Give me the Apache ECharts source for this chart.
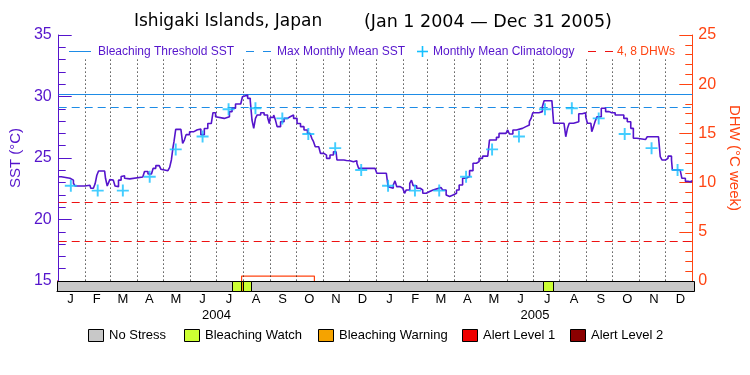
<!DOCTYPE html>
<html><head><meta charset="utf-8">
<script src="https://cdn.jsdelivr.net/npm/echarts@6/dist/echarts.min.js"></script>
<style>html,body{margin:0;padding:0;background:#fff}#c{width:750px;height:375px}</style>
</head><body><div id="c"></div>
<script>
// ---------- data ----------
const monthLetters = ['J','F','M','A','M','J','J','A','S','O','N','D'];
const monthLengths = [31,29,31,30,31,30,31,31,30,31,30,31, 31,28,31,30,31,30,31,31,30,31,30,31];
const years = ['2004','2005'];
const yearLengths = [366, 365];
// day index counted from Jan 1 2004
const sstDays = [0,3,5,13,15,17,19,30,32,36,37,40,42,44,46,53,54,56,57,59,61,63,65,66,69,72,74,76,78,82,97,99,103,107,109,112,116,118,120,126,128,130,132,133,135,141,143,145,147,151,156,160,162,164,168,172,176,178,181,183,191,193,197,200,204,210,212,214,218,221,223,225,227,229,233,237,241,243,244,248,250,252,254,256,260,264,267,271,275,279,283,287,290,292,294,296,300,302,306,309,313,317,320,321,329,332,336,340,344,346,355,365,367,378,380,382,386,388,390,394,397,399,401,405,407,409,413,417,420,424,428,432,438,441,443,447,449,451,455,459,462,466,470,474,478,482,485,489,495,497,501,505,508,516,518,520,524,528,535,539,543,545,547,554,558,560,569,571,583,585,587,589,594,596,600,604,608,610,614,615,617,619,621,626,631,635,638,642,648,652,656,660,663,667,677,679,692,694,696,700,703,707,708,717,719,723,726,730];
const sstValues = [23.48,23.45,23.35,23.3,23.2,22.95,22.72,22.72,22.78,22.75,22.54,22.7,22.9,23.6,23.94,23.85,23.35,22.72,22.9,23.25,23.2,23.05,22.72,22.67,23.2,23.5,23.55,23.35,23.3,23.45,23.45,23.9,23.7,23.78,24.16,24.38,24.24,24.08,23.97,23.97,24.24,24.84,25.92,26.33,27.33,27.33,26.19,26.46,26.9,27.14,27.3,27.14,27.35,26.9,27.4,27.8,27.95,28.68,28.35,28.22,28.22,28.35,28.77,29.04,29.39,29.3,29.98,30.12,29.85,29.67,28.09,27.41,28.22,28.5,28.68,28.5,28.3,27.8,28.3,28.5,28.1,27.55,27.55,27.95,28.22,28.35,28.5,28.22,27.8,27.55,27.28,27.0,26.9,26.6,26.33,25.92,25.8,25.38,25.24,24.97,25.24,25.51,25.65,24.84,24.8,24.77,24.7,24.77,24.57,24.16,24.16,24.1,23.76,23.63,22.67,22.54,22.8,23.14,22.67,22.54,22.4,22.13,22.4,22.94,23.2,22.75,22.54,22.4,22.13,22.27,22.4,22.53,22.6,22.67,22.4,22.0,21.87,22.0,22.13,22.4,22.8,23.35,23.5,23.97,24.57,24.7,24.97,25.15,25.15,26.46,26.46,26.68,27.0,27.14,27.28,26.95,27.28,27.41,27.55,27.68,27.95,28.22,28.68,28.77,29.17,29.66,29.66,27.82,27.82,26.73,27.41,27.82,27.82,27.95,28.6,28.68,28.35,27.82,27.82,27.14,27.55,28.0,28.35,29.04,28.77,28.68,28.68,28.5,28.5,28.22,27.95,27.41,26.6,26.5,26.5,26.73,26.73,25.11,24.84,24.97,25.15,24.84,24.02,24.1,23.35,23.1,23.05,23.2];
const climValues = [22.75,22.35,22.35,23.48,25.7,26.75,28.97,29.05,28.22,26.95,25.8,24.02];
const thresholdSST = 30.15;
const mmmSST = 29.15;
const dhwLevels = [4, 8];
const dhwDays = [0, 211, 295, 731];
const dhwValues = [0, 0.5, 0, 0];
const stressStart = [0, 201, 211, 213, 558];
const stressEnd   = [731, 211, 213, 222, 569];
const stressLevel = [0, 1, 2, 1, 1];
const stressNames = ['No Stress','Bleaching Watch','Bleaching Warning','Alert Level 1','Alert Level 2'];
const gridTopSST = 33;   // month dividers run below the in-plot legend

// ---------- styles ----------
const PURPLE = '#5514CC', ORANGE = '#FF4412', BLUE = '#1E8CE6', CYAN = '#14C0FF', RED = '#EE1111';
const stressColors = ['#C8C8C8','#CCFF33','#F5A300','#EE0000','#8B0000'];
const FONT = 'Liberation Sans, Arial, sans-serif';

// ---------- derived ----------
const monthStarts = []; let acc = 0;
monthLengths.forEach(l => { monthStarts.push(acc); acc += l; });
const totalDays = acc;
const monthMids = monthStarts.map((s, i) => s + monthLengths[i] / 2);
const yearMids = []; let ya = 0;
yearLengths.forEach(l => { yearMids.push(ya + l / 2); ya += l; });
const sstData = sstDays.map((d, i) => [d, sstValues[i]]);
const climData = monthStarts.map((s, i) => [s + 14, climValues[i % 12]]);
const dhwData = [];
for (let i = 0; i < dhwDays.length - 1; i++) {
  const v = dhwValues[i];
  if (v > 0) {
    const prev = i > 0 ? dhwValues[i - 1] : 0;
    dhwData.push([dhwDays[i], prev], [dhwDays[i], v], [dhwDays[i + 1], v], [dhwDays[i + 1], dhwValues[i + 1]]);
  } else if (dhwData.length && dhwData[dhwData.length - 1] !== '-') {
    dhwData.push('-');
  }
}
const stressData = stressStart.map((s, i) => [s, stressEnd[i], stressLevel[i]]);
const plusPath = 'path://M0,4.2H10V5.8H0Z M4.2,0H5.8V10H4.2Z';

const chart = echarts.init(document.getElementById('c'), null, {renderer: 'canvas'});

const graphics = [];
graphics.push({type:'text', style:{x:134, y:22, text:'Ishigaki Islands, Japan', font:'17px DejaVu Sans, sans-serif', fill:'#000', textVerticalAlign:'middle'}});
graphics.push({type:'text', style:{x:364, y:22, text:'(Jan 1 2004 \u2014 Dec 31 2005)', font:'17.5px DejaVu Sans, sans-serif', fill:'#000', textVerticalAlign:'middle'}});
const ly = 51.5;
graphics.push({type:'line', shape:{x1:69, y1:ly, x2:91, y2:ly}, style:{stroke:BLUE, lineWidth:1}});
graphics.push({type:'text', style:{x:98, y:ly, text:'Bleaching Threshold SST', font:'12px ' + FONT, fill:PURPLE, textVerticalAlign:'middle'}});
graphics.push({type:'line', shape:{x1:246, y1:ly, x2:271, y2:ly}, style:{stroke:BLUE, lineWidth:1, lineDash:[8,9]}});
graphics.push({type:'text', style:{x:277, y:ly, text:'Max Monthly Mean SST', font:'12px ' + FONT, fill:PURPLE, textVerticalAlign:'middle'}});
graphics.push({type:'line', shape:{x1:417, y1:ly, x2:428, y2:ly}, style:{stroke:CYAN, lineWidth:1.6}});
graphics.push({type:'line', shape:{x1:422.5, y1:ly-5.5, x2:422.5, y2:ly+5.5}, style:{stroke:CYAN, lineWidth:1.6}});
graphics.push({type:'text', style:{x:433, y:ly, text:'Monthly Mean Climatology', font:'12px ' + FONT, fill:PURPLE, textVerticalAlign:'middle'}});
graphics.push({type:'line', shape:{x1:588, y1:ly, x2:613, y2:ly}, style:{stroke:RED, lineWidth:1, lineDash:[8,9]}});
graphics.push({type:'text', style:{x:617, y:ly, text:'4, 8 DHWs', font:'12px ' + FONT, fill:ORANGE, textVerticalAlign:'middle'}});
const boxX = [88, 184, 318, 462, 570];
stressNames.forEach((n, i) => {
  graphics.push({type:'rect', shape:{x:boxX[i] + 0.5, y:329.5, width:15, height:12}, style:{fill:stressColors[i], stroke:'#000', lineWidth:1}});
  graphics.push({type:'text', style:{x:boxX[i] + 21, y:335.5, text:n, font:'13px ' + FONT, fill:'#000', textVerticalAlign:'middle'}});
});

const option = {
  animation: false,
  backgroundColor: '#fff',
  grid: [
    {left: 57, right: 56, top: 35, height: 246},
    {left: 57, right: 56, top: 281, height: 10}
  ],
  xAxis: [
    {gridIndex: 0, type: 'value', min: 0, max: totalDays, position: 'top',
     axisLine: {show: true, lineStyle: {color: '#000', width: 1}}, axisTick: {show: false},
     axisLabel: {show: false}, splitLine: {show: false}},
    {gridIndex: 1, type: 'value', min: 0, max: totalDays, position: 'bottom',
     axisLine: {show: true, lineStyle: {color: '#000', width: 1}}, axisTick: {show: false},
     axisLabel: {show: true, customValues: monthMids, margin: 2, color: '#000', fontSize: 13, fontFamily: FONT,
       formatter: (v) => { const i = monthMids.findIndex(m => Math.abs(m - v) < 0.01); return i >= 0 ? monthLetters[i % 12] : ''; }},
     splitLine: {show: false}},
    {gridIndex: 1, type: 'value', min: 0, max: totalDays, position: 'bottom', offset: 16,
     axisLine: {show: false}, axisTick: {show: false},
     axisLabel: {show: true, customValues: yearMids, margin: 2, color: '#000', fontSize: 13, fontFamily: FONT,
       formatter: (v) => { const i = yearMids.findIndex(m => Math.abs(m - v) < 0.01); return i >= 0 ? years[i] : ''; }},
     splitLine: {show: false}}
  ],
  yAxis: [
    {gridIndex: 0, type: 'value', min: 15, max: 35, interval: 5, position: 'left',
     name: 'SST (\u00B0C)', nameLocation: 'middle', nameGap: 30, nameRotate: 90,
     nameTextStyle: {color: PURPLE, fontSize: 15, fontFamily: FONT},
     axisLine: {show: true, lineStyle: {color: PURPLE, width: 1}},
     axisTick: {show: true, inside: true, length: 13, lineStyle: {color: PURPLE, width: 1}},
     minorTick: {show: true, splitNumber: 5, length: 7, lineStyle: {color: PURPLE, width: 1}},
     axisLabel: {color: PURPLE, fontSize: 16, fontFamily: FONT, margin: 7},
     splitLine: {show: false}},
    {gridIndex: 0, type: 'value', min: 0, max: 25, interval: 5, position: 'right',
     name: 'DHW (\u00B0C week)', nameLocation: 'middle', nameGap: 32, nameRotate: -90,
     nameTextStyle: {color: ORANGE, fontSize: 15, fontFamily: FONT},
     axisLine: {show: true, lineStyle: {color: ORANGE, width: 1}},
     axisTick: {show: true, inside: true, length: 13, lineStyle: {color: ORANGE, width: 1}},
     minorTick: {show: true, splitNumber: 5, length: 7, lineStyle: {color: ORANGE, width: 1}},
     axisLabel: {color: ORANGE, fontSize: 16, fontFamily: FONT, margin: 6},
     splitLine: {show: false}},
    {gridIndex: 1, type: 'value', min: 0, max: 1, position: 'left',
     axisLine: {show: true, lineStyle: {color: PURPLE, width: 1}}, axisTick: {show: false},
     axisLabel: {show: false}, splitLine: {show: false}},
    {gridIndex: 1, type: 'value', min: 0, max: 1, position: 'right',
     axisLine: {show: true, lineStyle: {color: ORANGE, width: 1}}, axisTick: {show: false},
     axisLabel: {show: false}, splitLine: {show: false}}
  ],
  series: [
    {type: 'line', name: 'SST', xAxisIndex: 0, yAxisIndex: 0, data: sstData, step: 'end',
     showSymbol: false, lineStyle: {color: PURPLE, width: 1.6}, itemStyle: {color: PURPLE}, z: 5,
     markLine: {silent: true, symbol: 'none', label: {show: false}, animation: false,
       data: monthStarts.slice(1).map(s => [
           {xAxis: s, yAxis: gridTopSST, lineStyle: {color: '#000', width: 1, type: [1, 3]}},
           {xAxis: s, yAxis: 15}
         ])
         .concat([
           {yAxis: thresholdSST, lineStyle: {color: BLUE, width: 1, type: 'solid'}},
           {yAxis: mmmSST, lineStyle: {color: BLUE, width: 1, type: [8, 5]}}
         ])}},
    {type: 'scatter', name: 'Climatology', xAxisIndex: 0, yAxisIndex: 0, data: climData,
     symbol: plusPath, symbolSize: 12, itemStyle: {color: CYAN}, z: 6},
    {type: 'line', name: 'DHW', xAxisIndex: 0, yAxisIndex: 1, data: dhwData, connectNulls: false,
     showSymbol: false, lineStyle: {color: ORANGE, width: 1.2}, z: 4,
     markLine: {silent: true, symbol: 'none', label: {show: false}, animation: false,
       data: dhwLevels.map(v => ({yAxis: v, lineStyle: {color: RED, width: 1, type: [8, 5]}}))}},
    {type: 'custom', name: 'Stress', xAxisIndex: 1, yAxisIndex: 2, data: stressData, z: 10,
     renderItem: (params, api) => {
       const a = api.coord([api.value(0), 1]);
       const b = api.coord([api.value(1), 0]);
       return {type: 'rect', shape: {x: Math.round(a[0]) + 0.5, y: Math.round(a[1]) + 0.5, width: Math.round(b[0] - a[0]), height: Math.round(b[1] - a[1])},
         style: {fill: stressColors[api.value(2)], stroke: '#000', lineWidth: 1}};
     }}
  ],
  graphic: graphics
};
chart.setOption(option);
</script>
</body></html>
